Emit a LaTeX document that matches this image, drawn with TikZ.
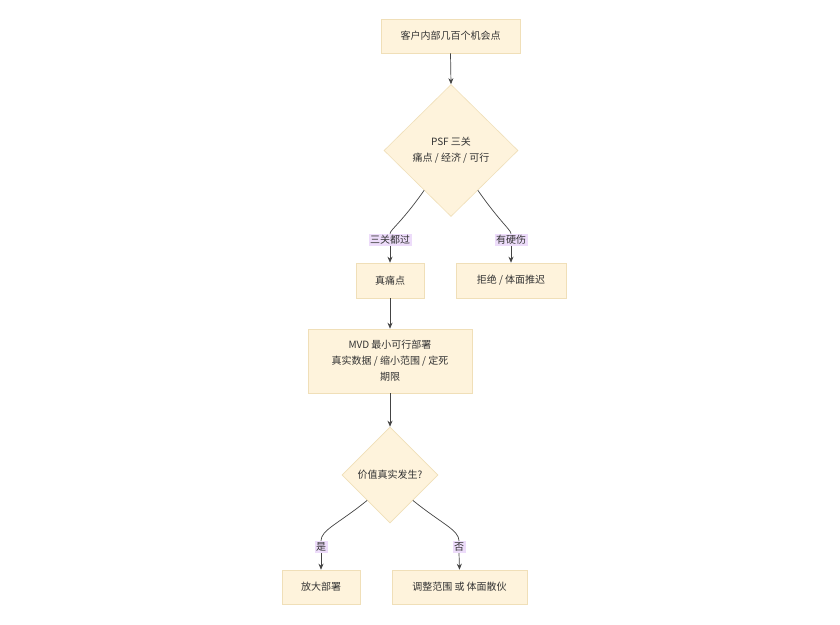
\documentclass[tikz,border=0pt]{standalone}
\usepackage{fontspec}
\setmainfont{Noto Sans CJK SC}
\usetikzlibrary{shapes.geometric,arrows.meta}
\definecolor{nfill}{HTML}{FEF3DC}
\definecolor{ndraw}{HTML}{F0DFB8}
\definecolor{lfill}{HTML}{EDDCFA}
\definecolor{ink}{HTML}{333333}
\definecolor{wire}{HTML}{444444}
\tikzset{
  base/.style={fill=nfill,draw=ndraw,line width=0.6pt,text=ink,font=\fontsize{10}{16}\selectfont,align=center,inner sep=0pt},
  box/.style={base,rectangle},
  dia/.style={base,diamond,aspect=1},
  lbl/.style={fill=lfill,text=ink,font=\fontsize{10}{12}\selectfont,inner sep=1.5pt},
  wireline/.style={draw=wire,line width=0.7pt},
  arr/.style={wireline,-{Stealth[length=6pt,width=5pt]}},
}
\begin{document}
\begin{tikzpicture}[x=1pt,y=-1pt]
\useasboundingbox[fill=white] (0,0) rectangle (840,624);
\node[box,minimum width=139,minimum height=34] (a) at (450.5,36) {客户内部几百个机会点};
\node[dia,minimum width=134,minimum height=132] (b) at (451,150.5) {PSF 三关\\痛点 / 经济 / 可行};
\node[box,minimum width=68,minimum height=35] (c) at (390,280.5) {真痛点};
\node[box,minimum width=110,minimum height=35] (d) at (511,280.5) {拒绝 / 体面推迟};
\node[box,minimum width=164,minimum height=64] (e) at (390,361) {MVD 最小可行部署\\真实数据 / 缩小范围 / 定死\\期限};
\node[dia,minimum width=96,minimum height=96] (f) at (390,475) {价值真实发生?};
\node[box,minimum width=78,minimum height=34] (g) at (321,587) {放大部署};
\node[box,minimum width=135,minimum height=34] (h) at (459.5,587) {调整范围 或 体面散伙};
\node[lbl] (l1) at (390,240) {三关都过};
\node[lbl] (l2) at (511,240) {有硬伤};
\node[lbl] (l3) at (321,547) {是};
\node[lbl] (l4) at (459,547) {否};
\draw[arr] (a.south) -- (b.north);
\draw[wireline] (b.-124) .. controls (402,222) and (390,230) .. (l1.north);
\draw[arr] (l1.south) -- (c.north);
\draw[wireline] (b.-56) .. controls (500,222) and (511,230) .. (l2.north);
\draw[arr] (l2.south) -- (d.north);
\draw[arr] (c.south) -- (e.north);
\draw[arr] (e.south) -- (f.north);
\draw[wireline] (f.-132) .. controls (338,524) and (321,530) .. (l3.north);
\draw[arr] (l3.south) -- (g.north);
\draw[wireline] (f.-48) .. controls (442,524) and (459,530) .. (l4.north);
\draw[arr] (l4.south) -- (h.north);
\end{tikzpicture}
\end{document}
